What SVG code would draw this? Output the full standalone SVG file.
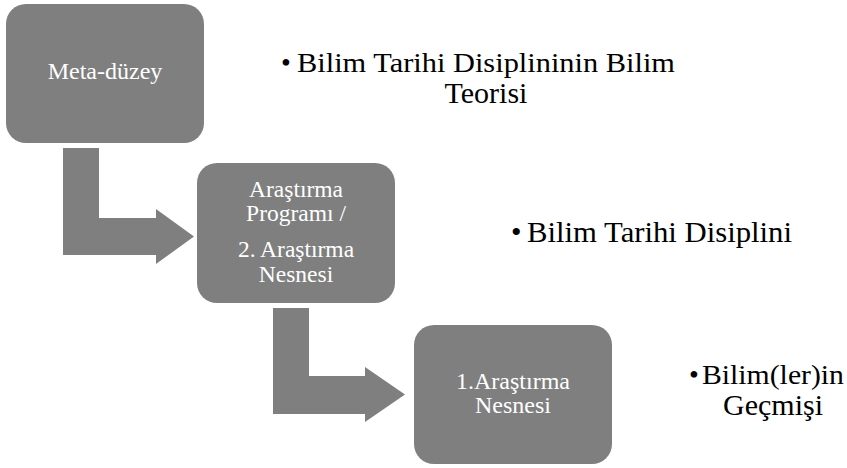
<svg xmlns="http://www.w3.org/2000/svg" width="847" height="468" viewBox="0 0 847 468">
<style>
.box{fill:#7f7f7f;}
.arr{fill:#7f7f7f;}
.bt{font-family:'Liberation Serif','Times New Roman',Times,'DejaVu Serif',serif;fill:#ffffff;text-anchor:middle;}
.lt{font-family:'Liberation Serif','Times New Roman',Times,'DejaVu Serif',serif;fill:#000000;}
</style>
<rect width="847" height="468" fill="#ffffff"/>
<g id="connectors">
<polygon class="arr" points="63,148 99,148 99,218 156,218 156,209 194,236.5 156,264 156,255 63,255"/>
<polygon class="arr" points="273,308 309,308 309,376 365,376 365,367 405,394.5 365,422 365,414 273,414"/>
</g>
<g id="node-meta">
<rect class="box" x="6" y="4" width="198" height="139" rx="20" ry="20"/>
<text class="bt" x="105" y="79" font-size="24">Meta-düzey</text>
</g>
<g id="node-program">
<rect class="box" x="197" y="163" width="198" height="140" rx="20" ry="20"/>
<text class="bt" font-size="23.5"><tspan x="296" y="197">Araştırma</tspan><tspan x="296" y="221">Programı /</tspan><tspan x="296" y="257">2. Araştırma</tspan><tspan x="296" y="282">Nesnesi</tspan></text>
</g>
<g id="node-object">
<rect class="box" x="414" y="325" width="198" height="139" rx="20" ry="20"/>
<text class="bt" font-size="24"><tspan x="513" y="389">1.Araştırma</tspan><tspan x="513" y="413">Nesnesi</tspan></text>
</g>
<g id="label-1">
<text class="lt" x="281" y="72" font-size="28">•</text>
<text class="lt" x="297" y="72" font-size="28" textLength="378" lengthAdjust="spacingAndGlyphs">Bilim Tarihi Disiplininin Bilim</text>
<text class="lt" x="486" y="103" text-anchor="middle" font-size="30">Teorisi</text>
</g>
<g id="label-2">
<text class="lt" x="511" y="242" font-size="30">•</text>
<text class="lt" x="527" y="242" font-size="30" textLength="265" lengthAdjust="spacingAndGlyphs">Bilim Tarihi Disiplini</text>
</g>
<g id="label-3">
<text class="lt" x="689" y="384" font-size="28">•</text>
<text class="lt" x="702" y="384" font-size="28" textLength="142" lengthAdjust="spacingAndGlyphs">Bilim(ler)in</text>
<text class="lt" x="773" y="415" text-anchor="middle" font-size="30">Geçmişi</text>
</g>
</svg>
